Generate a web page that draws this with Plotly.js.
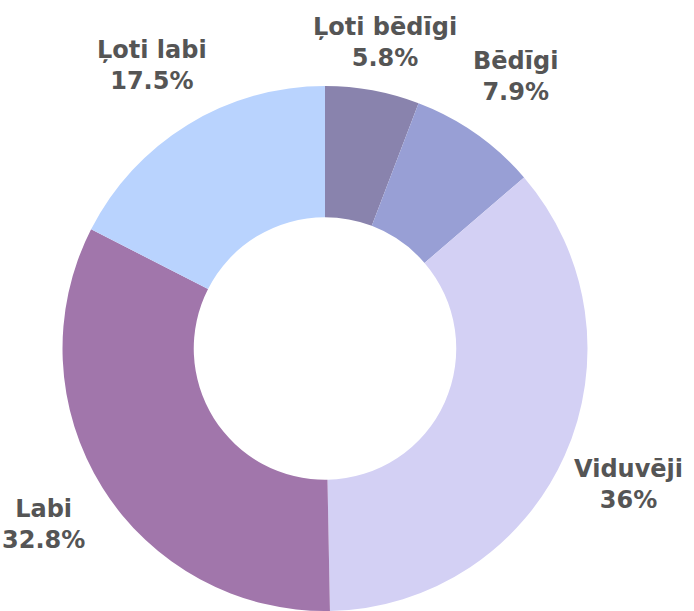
<!DOCTYPE html>
<html>
<head>
<meta charset="utf-8">
<script src="https://cdn.plot.ly/plotly-3.0.1.min.js"></script>
<style>
  html, body { margin: 0; padding: 0; background: #ffffff; overflow: hidden; }
  #chart { width: 694px; height: 611px; }
</style>
</head>
<body>
<div id="chart"></div>
<script>
// ---- data ----
const categories = ["Ļoti bēdīgi", "Bēdīgi", "Viduvēji", "Labi", "Ļoti labi"];
const percentValues = [5.8, 7.9, 36, 32.8, 17.5];
const sliceColors = ["#8983ad", "#989fd5", "#d3d0f4", "#a176ab", "#b9d3fe"];

// ---- layout constants ----
const W = 694, H = 611;
const cx = 325, cy = 348.5;           // pie centre in px
const outerR = 262.5;
const labelR = 332;                    // distance of label centres from pie centre
const yMinLabel = 43, yMaxLabel = 527; // keep labels inside the canvas

const total = percentValues.reduce((a, b) => a + b, 0);

// label positions derived from the slice mid-angles
const annotations = [];
let cum = 0;
percentValues.forEach((v, i) => {
  const mid = (cum + v / 2) / total * 2 * Math.PI; // clockwise from 12 o'clock
  cum += v;
  let x = cx + labelR * Math.sin(mid);
  let y = cy - labelR * Math.cos(mid);
  if (y > yMaxLabel) {
    y = yMaxLabel;
    const dy = y - cy;
    const dx = Math.sqrt(Math.max(labelR * labelR - dy * dy, 0));
    x = cx + (Math.sin(mid) < 0 ? -dx : dx);
  } else if (y < yMinLabel) {
    y = yMinLabel;
  }
  const pct = parseFloat((v / total * 100).toFixed(1));
  annotations.push({
    xref: "paper", yref: "paper",
    x: x / W, y: 1 - y / H,
    xanchor: "center", yanchor: "middle",
    text: categories[i] + "<br>" + pct + "%",
    showarrow: false,
    align: "center",
    font: { family: "DejaVu Sans, sans-serif", size: 24, color: "#555555", weight: 700 }
  });
});

const trace = {
  type: "pie",
  labels: categories,
  values: percentValues,
  hole: 0.5,
  sort: false,
  direction: "clockwise",
  rotation: 0,
  textinfo: "none",
  hoverinfo: "label+percent",
  marker: { colors: sliceColors, line: { width: 0 } },
  domain: {
    x: [(cx - outerR) / W, (cx + outerR) / W],
    y: [0, 1 - (cy - outerR) / H]
  },
  showlegend: false
};

const layout = {
  width: W, height: H,
  margin: { l: 0, r: 0, t: 0, b: 0, pad: 0 },
  paper_bgcolor: "#ffffff",
  plot_bgcolor: "#ffffff",
  showlegend: false,
  annotations: annotations
};

Plotly.newPlot("chart", [trace], layout, { displayModeBar: false, staticPlot: true });
</script>
</body>
</html>
